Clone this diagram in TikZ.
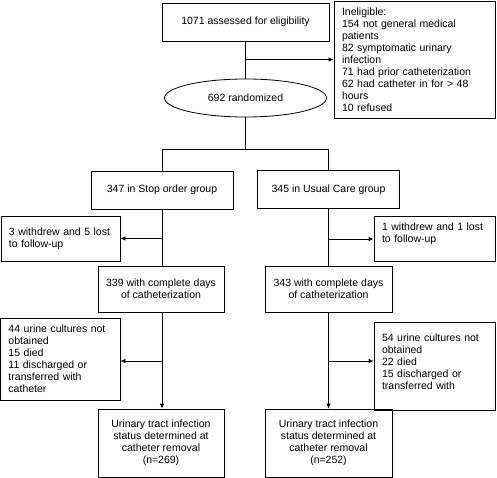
\documentclass[tikz,border=0pt]{standalone}
\usepackage{fontspec}
\setmainfont{Liberation Sans}
\usetikzlibrary{shapes.geometric,arrows.meta}
\begin{document}
\begin{tikzpicture}[x=1pt,y=-1pt,
  box/.style={draw,line width=0.8pt,inner sep=0pt,font=\fontsize{10.5}{12}\selectfont},
  cbox/.style={box,align=center},
  lbox/.style={box,align=left,inner xsep=8pt},
  conn/.style={line width=0.8pt},
  arr/.style={conn,-{Latex[length=5pt,width=4.5pt]}}
]
\useasboundingbox (0,0) rectangle (497,478);

\node[cbox,minimum width=167pt,minimum height=38pt] (assess) at (245.5,22) {1071 assessed for eligibility};
\node[lbox,text width=145pt,minimum height=117pt] (inel) at (414.5,59.5) {Ineligible:\\154 not general medical\\patients\\82 symptomatic urinary\\infection\\71 had prior catheterization\\62 had catheter in for > 48\\hours\\10 refused};
\node[box,ellipse,minimum width=162pt,minimum height=38pt] (rand) at (245.5,98) {692 randomized};

\node[cbox,minimum width=142pt,minimum height=38pt] (stop) at (162,190) {347 in Stop order group};
\node[cbox,minimum width=142pt,minimum height=38pt] (usual) at (328.5,189.5) {345 in Usual Care group};

\node[lbox,text width=103pt,minimum width=119pt,minimum height=45pt] (wl) at (60.5,238.5) {3 withdrew and 5 lost\\to follow-up};
\node[lbox,text width=105pt,minimum width=121pt,minimum height=45pt] (wr) at (434.5,238.5) {1 withdrew and 1 lost\\to follow-up\rule[-12pt]{0pt}{0pt}};

\node[cbox,minimum width=126pt,minimum height=46pt] (c339) at (161,289) {339 with complete days\\of catheterization};
\node[cbox,minimum width=127pt,minimum height=46pt] (c343) at (328.5,289) {343 with complete days\\of catheterization};

\node[lbox,text width=103.5pt,minimum height=82pt] (el) at (60.25,359) {44 urine cultures not\\obtained\\15 died\\11 discharged or\\transferred with\\catheter};
\node[lbox,text width=105pt,minimum height=88pt] (er) at (434.5,366) {54 urine cultures not\\obtained\\22 died\\15 discharged or\\transferred with\rule[-9pt]{0pt}{0pt}};

\node[cbox,minimum width=126pt,minimum height=68pt] (ul) at (161,443) {Urinary tract infection\\status determined at\\catheter removal\\(n=269)};
\node[cbox,minimum width=127pt,minimum height=68pt] (ur) at (328.5,443) {Urinary tract infection\\status determined at\\catheter removal\\(n=252)};

% connectors
\coordinate (j1) at (assess.south |- inel.west);
\draw[conn] (assess.south) -- (rand.north);
\draw[arr] (j1) -- (inel.west);
\coordinate (sp) at (rand.south |- 0,149);
\coordinate (spl) at (stop.north |- sp);
\coordinate (spr) at (usual.north |- sp);
\draw[conn] (rand.south) -- (sp);
\draw[conn] (stop.north) -- (spl) -- (spr) -- (usual.north);

\coordinate (jl1) at (stop.south |- wl.east);
\coordinate (jr1) at (usual.south |- 0,239);
\draw[conn] (stop.south) -- (c339.north -| stop.south);
\draw[arr] (jl1) -- (wl.east);
\draw[conn] (usual.south) -- (c343.north -| usual.south);
\draw[arr] (jr1) -- (jr1 -| wr.west);

\coordinate (jl2) at (stop.south |- 0,361);
\coordinate (jr2) at (usual.south |- 0,361);
\draw[arr] (c339.south -| stop.south) -- (ul.north -| stop.south);
\draw[arr] (jl2) -- (jl2 -| el.east);
\draw[arr] (c343.south -| usual.south) -- (ur.north -| usual.south);
\draw[arr] (jr2) -- (jr2 -| er.west);
\end{tikzpicture}
\end{document}
